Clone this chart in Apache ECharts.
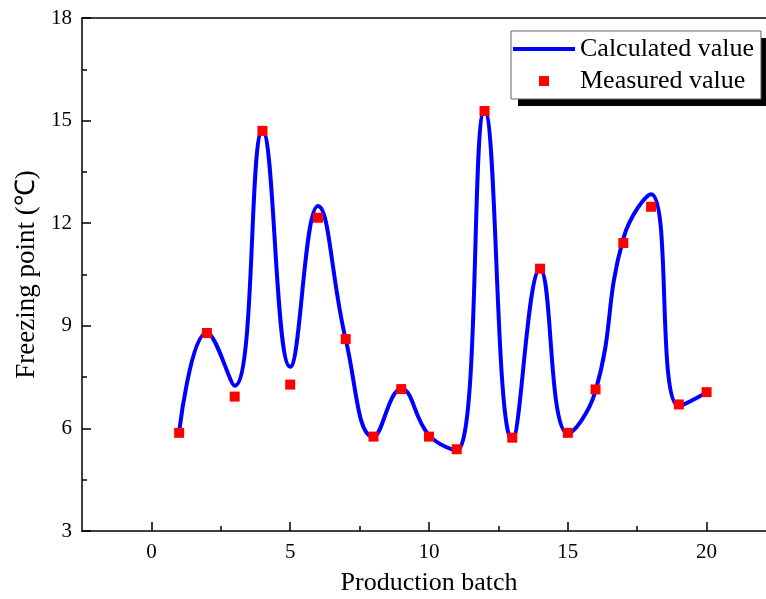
<!DOCTYPE html>
<html>
<head>
<meta charset="utf-8">
<title>Freezing point</title>
<script src="https://cdn.jsdelivr.net/npm/echarts@6/dist/echarts.min.js"></script>
<style>
	html, body { margin: 0; padding: 0; background: #fff; }
	#chart { width: 766px; height: 599px; }
</style>
</head>
<body>
<div id="chart"></div>
<script>
// 数据
var batches = [1, 2, 3, 4, 5, 6, 7, 8, 9, 10, 11, 12, 13, 14, 15, 16, 17, 18, 19, 20];
var calculatedValues = [5.9, 8.8, 7.25, 14.7, 7.8, 12.5, 8.6, 5.75, 7.15, 5.8, 5.35, 15.3, 5.65, 10.65, 5.85, 7.1, 11.55, 12.85, 6.65, 7.05];
var measuredValues = [5.87, 8.79, 6.93, 14.7, 7.28, 12.16, 8.61, 5.76, 7.15, 5.76, 5.39, 15.28, 5.73, 10.67, 5.87, 7.14, 11.42, 12.48, 6.7, 7.06];
var xMajorTicks = [0, 5, 10, 15, 20];
var xMinorTicks = [2.5, 7.5, 12.5, 17.5];

var FONT = '"Liberation Serif", "Times New Roman", serif';

var toPairs = function(xs, ys){
	var out = [];
	for (var i = 0; i < xs.length; i++) {
		out.push([xs[i], ys[i]]);
	}
	return out;
};

var axisLineStyle = { color: '#000', width: 1.5 };

// 图例图标：一条粗线 / 一个方块
var ICON_LINE = 'path://M0,0 L62,0 L62,4 L0,4 Z';
var ICON_SQUARE = 'path://M0,0 L10,0 L10,10 L0,10 Z';

var option = {
	animation: false,
	backgroundColor: '#fff',
	grid: {
		left: 82,
		right: -10,
		top: 18,
		bottom: 68,
		outerBoundsMode: 'none'
	},
	// 图例背后的黑色阴影块
	graphic: [
		{
			type: 'rect',
			left: 518,
			top: 38,
			shape: { width: 252, height: 68 },
			style: { fill: '#000' },
			z: 4
		}
	],
	legend: {
		orient: 'vertical',
		left: 511,
		top: 31,
		padding: [5, 7, 5, 2],
		itemGap: 6,
		itemWidth: 62,
		itemHeight: 10,
		symbolKeepAspect: true,
		backgroundColor: '#fff',
		borderColor: '#666',
		borderWidth: 1,
		z: 5,
		textStyle: { fontFamily: FONT, fontSize: 26, lineHeight: 26, color: '#000' },
		data: [
			{ name: 'Calculated value', icon: ICON_LINE, itemStyle: { color: '#0000ff' } },
			{ name: 'Measured value', icon: ICON_SQUARE, itemStyle: { color: '#ff0000' } }
		]
	},
	xAxis: [
		{
			type: 'value',
			position: 'bottom',
			min: -2.5,
			max: 22.5,
			name: 'Production batch',
			nameLocation: 'middle',
			nameGap: 39,
			nameTextStyle: { fontFamily: FONT, fontSize: 26, color: '#000' },
			axisLine: { show: true, onZero: false, lineStyle: axisLineStyle },
			axisTick: { show: true, inside: true, length: 9, customValues: xMajorTicks, lineStyle: axisLineStyle },
			axisLabel: { show: true, customValues: xMajorTicks, margin: 11, fontFamily: FONT, fontSize: 21, color: '#000' },
			splitLine: { show: false }
		},
		{
			type: 'value',
			position: 'bottom',
			min: -2.5,
			max: 22.5,
			axisLine: { show: false, onZero: false },
			axisTick: { show: true, inside: true, length: 5, customValues: xMinorTicks, lineStyle: axisLineStyle },
			axisLabel: { show: false },
			splitLine: { show: false }
		},
		{
			type: 'value',
			position: 'top',
			min: -2.5,
			max: 22.5,
			axisLine: { show: true, onZero: false, lineStyle: axisLineStyle },
			axisTick: { show: false },
			axisLabel: { show: false },
			splitLine: { show: false }
		}
	],
	yAxis: {
		type: 'value',
		position: 'left',
		min: 3,
		max: 18,
		interval: 3,
		name: 'Freezing point (\u2103)',
		nameLocation: 'middle',
		nameGap: 38,
		nameTextStyle: { fontFamily: FONT, fontSize: 27, color: '#000' },
		axisLine: { show: true, onZero: false, lineStyle: axisLineStyle },
		axisTick: { show: true, inside: true, length: 9, lineStyle: axisLineStyle },
		minorTick: { show: true, splitNumber: 2, length: 5, lineStyle: axisLineStyle },
		axisLabel: { margin: 10, fontFamily: FONT, fontSize: 21, color: '#000' },
		splitLine: { show: false }
	},
	series: [
		{
			name: 'Calculated value',
			type: 'line',
			xAxisIndex: 0,
			smooth: 0.45,
			symbol: 'none',
			lineStyle: { color: '#0000ff', width: 4 },
			itemStyle: { color: '#0000ff' },
			data: toPairs(batches, calculatedValues),
			z: 2
		},
		{
			name: 'Measured value',
			type: 'scatter',
			xAxisIndex: 0,
			symbol: 'rect',
			symbolSize: 10,
			itemStyle: { color: '#ff0000', opacity: 1 },
			data: toPairs(batches, measuredValues),
			z: 3
		}
	]
};

var chart = echarts.init(document.getElementById('chart'));
chart.setOption(option);
</script>
</body>
</html>
